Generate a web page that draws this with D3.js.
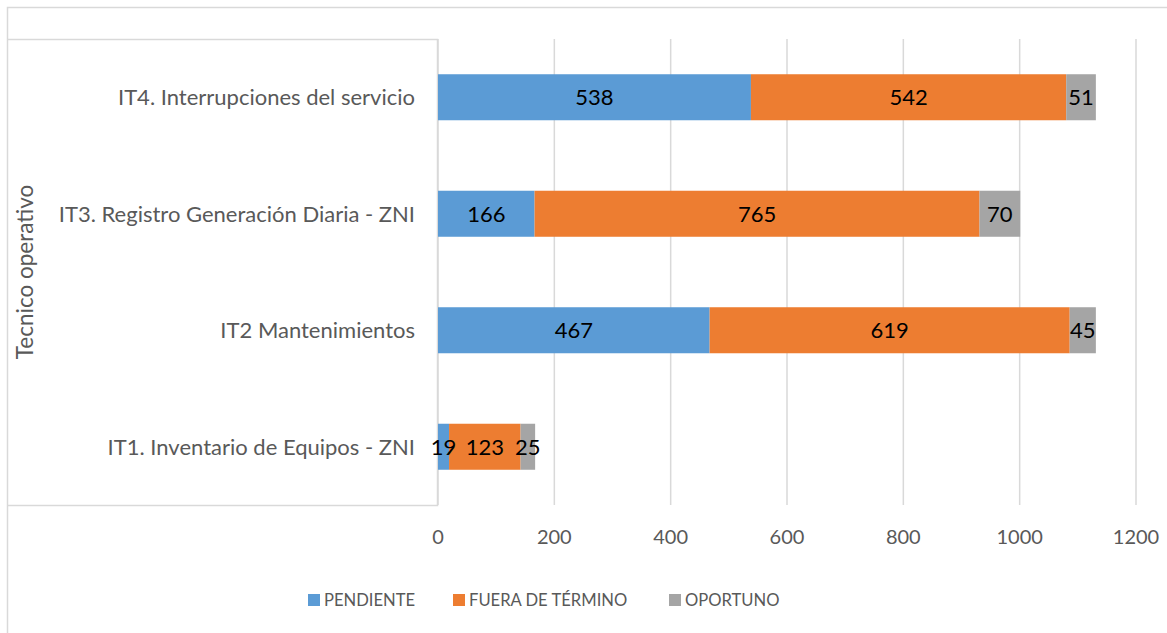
<!DOCTYPE html>
<html><head><meta charset="utf-8">
<script src="https://cdn.jsdelivr.net/npm/d3@7"></script>
<style>body{margin:0;background:#fff}svg{display:block}text{font-family:Lato,"Open Sans",sans-serif}</style>
</head><body>
<script>
const categories = ["IT4. Interrupciones del servicio","IT3. Registro Generación Diaria - ZNI","IT2 Mantenimientos","IT1. Inventario de Equipos - ZNI"];
const seriesNames = ["PENDIENTE","FUERA DE TÉRMINO","OPORTUNO"];
const pendiente = [538,166,467,19];
const fuera = [542,765,619,123];
const oportuno = [51,70,45,25];
const xTicks = [0,200,400,600,800,1000,1200];
const colors = ["#5B9BD5","#ED7D31","#A5A5A5"];

const W=1167,H=633;
const svg=d3.select("body").append("svg").attr("width",W).attr("height",H);
const x0=438,x1=1136,yTop=39,yBot=505;
const x=d3.scaleLinear().domain([0,1200]).range([x0,x1]);
const y=d3.scaleBand().domain(categories).range([yTop,yBot]).paddingInner(0.605).paddingOuter(0.3025);

// outer border
svg.append("rect").attr("x",7.5).attr("y",7.5).attr("width",W+10).attr("height",H+10).attr("fill","none").attr("stroke","#D9D9D9").attr("stroke-width",1.5);
// inner axis-label box
svg.append("path").attr("d",`M7.5,${yTop+0.5}H${x0-0.5}V${yBot+0.5}H7.5`).attr("fill","none").attr("stroke","#D9D9D9").attr("stroke-width",1.5);

// gridlines
svg.append("g").selectAll("line").data(xTicks).join("line")
  .attr("x1",d=>x(d)).attr("x2",d=>x(d)).attr("y1",yTop).attr("y2",yBot)
  .attr("stroke","#D9D9D9").attr("stroke-width",1.5);

const stackData=categories.map((c,i)=>({cat:c,s0:pendiente[i],s1:fuera[i],s2:oportuno[i]}));
const stacked=d3.stack().keys(["s0","s1","s2"])(stackData);

const g=svg.append("g");
stacked.forEach((layer,k)=>{
  g.selectAll(null).data(layer).join("rect")
    .attr("x",d=>x(d[0])).attr("width",d=>x(d[1])-x(d[0]))
    .attr("y",d=>y(d.data.cat)).attr("height",y.bandwidth())
    .attr("fill",colors[k]);
});
stacked.forEach((layer,k)=>{
  g.selectAll(null).data(layer).join("text")
    .attr("x",d=>(x(d[0])+x(d[1]))/2).attr("y",d=>y(d.data.cat)+y.bandwidth()/2)
    .attr("dy","0.36em").attr("text-anchor","middle")
    .attr("font-size",22).attr("fill","#000")
    .text(d=>d[1]-d[0]);
});

// category labels
svg.append("g").selectAll("text").data(categories).join("text")
  .attr("x",x0-23).attr("y",d=>y(d)+y.bandwidth()/2).attr("dy","0.36em")
  .attr("text-anchor","end").attr("font-size",22).attr("fill","#595959").text(d=>d);

// x tick labels
svg.append("g").selectAll("text").data(xTicks).join("text")
  .attr("x",d=>x(d)).attr("y",537).attr("dy","0.36em").attr("text-anchor","middle")
  .attr("font-size",20).attr("fill","#595959").text(d=>d);

// y axis title
svg.append("text").attr("transform","translate(25,272) rotate(-90)").attr("dy","0.36em")
  .attr("text-anchor","middle").attr("font-size",22.5).attr("fill","#595959").text("Tecnico operativo");

// legend
const legX=[308,453,669];
const lg=svg.append("g").selectAll("g").data(seriesNames).join("g").attr("transform",(d,i)=>`translate(${legX[i]},600)`);
lg.append("rect").attr("x",0).attr("y",-6).attr("width",12).attr("height",12).attr("fill",(d,i)=>colors[i]);
lg.append("text").attr("x",16).attr("y",0).attr("dy","0.36em").attr("font-size",16.6).attr("fill","#595959").text(d=>d);
</script>
</body></html>
